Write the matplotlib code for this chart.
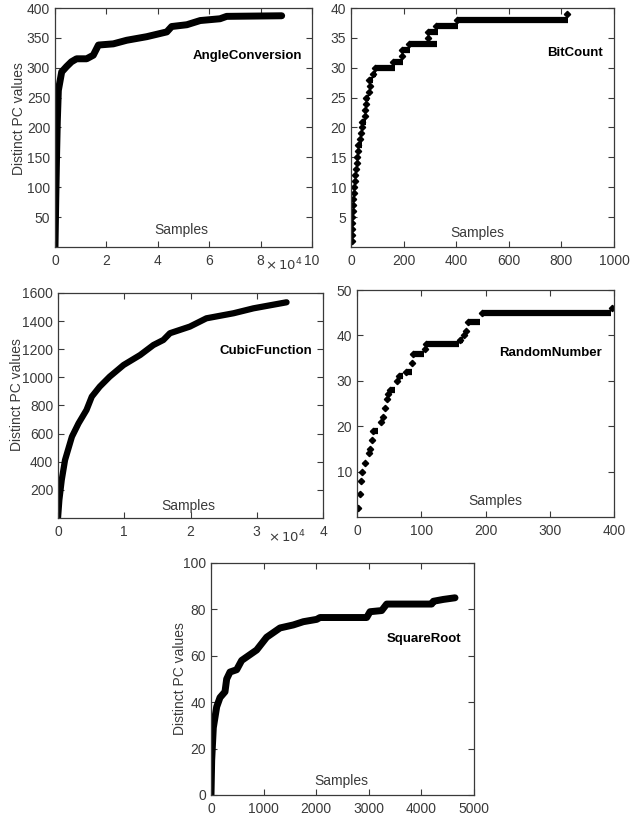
import matplotlib
matplotlib.use('Agg')
from matplotlib import pyplot as plt
import numpy as np

plt.rcParams['font.family'] = ['Liberation Sans', 'DejaVu Sans']

# AngleConversion: samples, distinct PC values
angle_x = [0, 300, 600, 900, 1300, 2600, 4500, 6400, 8400, 12300, 14900, 16900,
           22700, 27900, 35700, 43500, 45400, 51300, 56500, 64200, 66800, 88200]
angle_y = [0, 80, 150, 210, 262, 293, 302, 310, 315, 315, 321, 338,
           340, 346, 352, 360, 369, 372, 379, 382, 386, 387]

# BitCount: level, first sample, last sample
bit_level = [1, 2, 3, 4, 5, 6, 7, 8, 9, 10, 11, 12, 13, 14, 15, 16, 17, 18, 19, 20,
             21, 22, 23, 24, 25, 26, 27, 28, 29, 30, 31, 32, 33, 34, 35, 36, 37, 38, 39]
bit_start = [2, 3, 3, 4, 5, 6, 8, 9, 10, 12, 14, 17, 19, 22, 24, 26, 28, 36, 38, 40,
             43, 52, 54, 57, 56, 68, 72, 70, 82, 93, 158, 194, 194, 219, 291, 292, 325, 402, 820]
bit_end = [2, 3, 5, 4, 5, 8, 8, 9, 10, 14, 14, 17, 19, 22, 28, 26, 40, 36, 38, 40,
           56, 52, 54, 57, 70, 68, 72, 82, 95, 166, 199, 194, 226, 327, 291, 330, 408, 826, 820]

# CubicFunction
cubic_x = [0, 200, 560, 1060, 2100, 3100, 4300, 5100, 6300, 7800, 9900, 12400,
           14400, 15900, 16900, 19900, 22400, 26500, 29500, 34500]
cubic_y = [0, 128, 270, 412, 578, 673, 768, 863, 934, 1005, 1088, 1159,
           1230, 1266, 1314, 1361, 1420, 1456, 1491, 1534]

# RandomNumber: level, first sample, last sample
rnd_level = [2, 5, 8, 10, 12, 14, 15, 17, 19, 21, 22, 24, 26, 27, 28, 30, 31, 32,
             34, 36, 37, 38, 39, 40, 41, 43, 45, 46]
rnd_start = [1, 4, 6, 8, 13, 18, 20, 23, 25, 37, 40, 44, 46, 49, 51, 62, 65, 77,
             86, 87, 106, 108, 160, 166, 169, 173, 194, 397]
rnd_end = [1, 4, 6, 9, 14, 18, 20, 24, 33, 37, 40, 44, 47, 49, 59, 62, 72, 85,
           86, 105, 107, 158, 165, 166, 171, 191, 396, 397]

# SquareRoot
sqrt_x = [0, 13, 44, 108, 171, 266, 298, 361, 488, 583, 868, 1058, 1185, 1312,
          1565, 1755, 2009, 2072, 2960, 3023, 3245, 3340, 4196, 4227, 4417, 4639]
sqrt_y = [0, 15, 29, 38, 42, 44.5, 50, 53, 54, 58, 62.5, 68, 70, 72,
          73.3, 74.7, 75.7, 76.5, 76.5, 79, 79.5, 82.3, 82.3, 83.5, 84.3, 85]

W, H = 636, 818
fig = plt.figure(figsize=(W / 100, H / 100), dpi=100)

gray = '#3a3a3a'


def make_ax(l, t, r, b):
    ax = fig.add_axes([l / W, 1 - b / H, (r - l) / W, (b - t) / H])
    ax.tick_params(direction='in', top=True, right=True, length=4, width=0.8,
                   labelsize=10, labelcolor=gray, colors=gray, pad=5)
    ax.tick_params(axis='y', pad=3.5)
    for s in ax.spines.values():
        s.set_color(gray)
        s.set_linewidth(0.9)
    return ax


def decorate(ax, name, nx, ny, sx, sy, ylab=None):
    ax.text(nx, ny, name, transform=ax.transAxes, ha='right', va='baseline',
            fontsize=9.5, fontweight='bold', color='black')
    ax.text(sx, sy, 'Samples', transform=ax.transAxes, ha='center', va='baseline',
            fontsize=10, color=gray)
    if ylab is not None:
        ax.text(ylab[0], ylab[1], 'Distinct PC values', transform=ax.transAxes,
                rotation=90, ha='center', va='center', fontsize=10, color=gray)


# AngleConversion
ax1 = make_ax(55, 8, 312, 247)
ax1.plot(np.array(angle_x) / 1e4, angle_y, color='black', lw=5, solid_capstyle='round')
ax1.set_xlim(0, 10)
ax1.set_ylim(0, 400)
ax1.set_xticks([0, 2, 4, 6, 8, 10])
ax1.set_yticks(range(50, 401, 50))
decorate(ax1, 'AngleConversion', 0.961, 0.787, 0.49, 0.054, (-0.14, 0.538))
ax1.text(0.962, -0.096, r'$\times\,10^{4}$', transform=ax1.transAxes, ha='right',
         va='baseline', fontsize=9.5, color=gray)

# BitCount
ax2 = make_ax(351, 8, 614, 247)
ax2.hlines(bit_level, bit_start, bit_end, color='black', lw=4.5)
ax2.plot(bit_start, bit_level, ls='none', marker='D', ms=3.2, color='black')
ax2.set_xlim(0, 1000)
ax2.set_ylim(0, 40)
ax2.set_xticks(range(0, 1001, 200))
ax2.set_yticks(range(5, 41, 5))
decorate(ax2, 'BitCount', 0.958, 0.80, 0.479, 0.042)

# CubicFunction
ax3 = make_ax(58, 293, 323, 518)
ax3.plot(np.array(cubic_x) / 1e4, cubic_y, color='black', lw=4.5, solid_capstyle='round')
ax3.set_xlim(0, 4)
ax3.set_ylim(0, 1600)
ax3.set_xticks([0, 1, 2, 3, 4])
ax3.set_yticks(range(200, 1601, 200))
decorate(ax3, 'CubicFunction', 0.961, 0.729, 0.49, 0.036, (-0.155, 0.547))
ax3.text(0.935, -0.11, r'$\times\,10^{4}$', transform=ax3.transAxes, ha='right',
         va='baseline', fontsize=9.5, color=gray)

# RandomNumber
ax4 = make_ax(357, 290, 614, 517)
ax4.hlines(rnd_level, rnd_start, rnd_end, color='black', lw=4.5)
ax4.plot(rnd_start, rnd_level, ls='none', marker='D', ms=3.2, color='black')
ax4.set_xlim(0, 400)
ax4.set_ylim(0, 50)
ax4.set_xticks(range(0, 401, 100))
ax4.set_yticks(range(10, 51, 10))
decorate(ax4, 'RandomNumber', 0.952, 0.709, 0.539, 0.053)

# SquareRoot
ax5 = make_ax(211, 563, 474, 795)
ax5.plot(sqrt_x, sqrt_y, color='black', lw=5, solid_capstyle='round')
ax5.set_xlim(0, 5000)
ax5.set_ylim(0, 100)
ax5.set_xticks(range(0, 5001, 1000))
ax5.set_yticks(range(0, 101, 20))
decorate(ax5, 'SquareRoot', 0.953, 0.661, 0.494, 0.043, (-0.118, 0.5))

fig.savefig('out.png', dpi=100)
